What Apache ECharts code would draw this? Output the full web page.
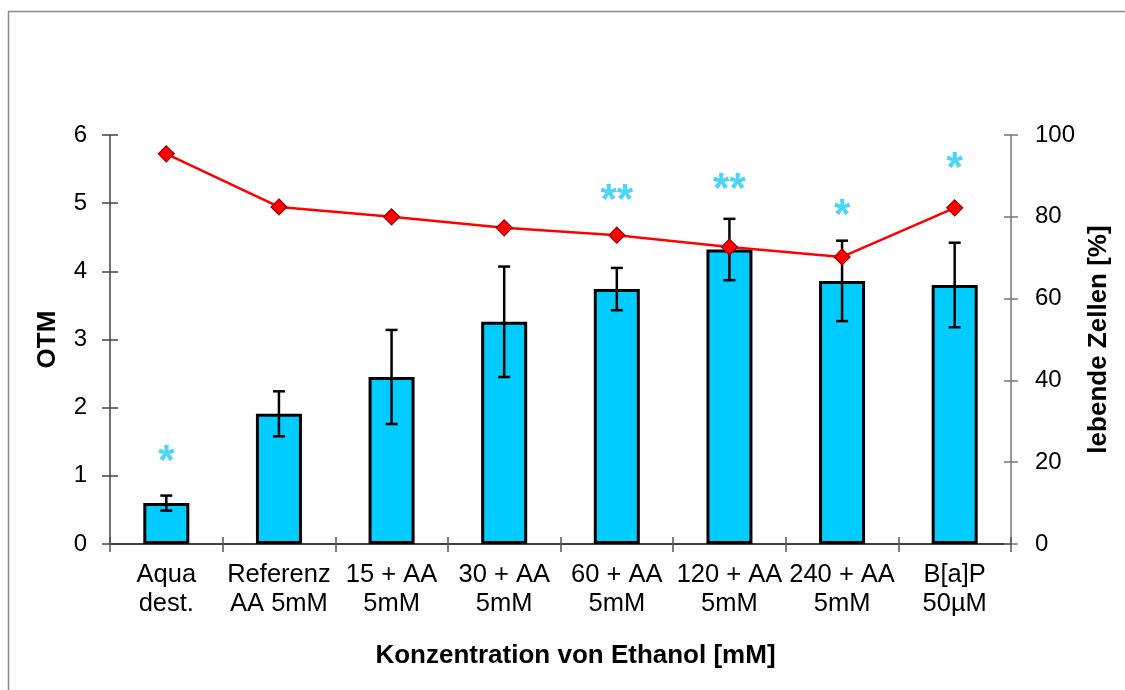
<!DOCTYPE html>
<html>
<head>
<meta charset="utf-8">
<script src="https://cdn.jsdelivr.net/npm/echarts@6/dist/echarts.min.js"></script>
<style>
html,body{margin:0;padding:0;background:#fff;}
#chart{width:1125px;height:690px;}
</style>
</head>
<body>
<div id="chart"></div>
<script>
const categories = ['Aqua\ndest.', 'Referenz\nAA 5mM', '15 + AA\n5mM', '30 + AA\n5mM', '60 + AA\n5mM', '120 + AA\n5mM', '240 + AA\n5mM', 'B[a]P\n50µM'];
const otmValues = [0.6, 1.91, 2.45, 3.26, 3.74, 4.32, 3.86, 3.80];
const otmErrors = [0.11, 0.33, 0.69, 0.81, 0.31, 0.45, 0.59, 0.62];
const viableCells = [95.4, 82.4, 80.0, 77.3, 75.5, 72.6, 70.2, 82.2];
const significance = ['*', '', '', '', '**', '**', '*', '*'];
const significanceY = [1.19, null, null, null, 5.03, 5.19, 4.81, 5.50];
const leftTicks = [0, 1, 2, 3, 4, 5, 6];
const rightTicks = [0, 20, 40, 60, 80, 100];

const FONT = 'Liberation Sans, Arial, sans-serif';
const chart = echarts.init(document.getElementById('chart'));

const errData = otmValues.map((v, i) => [i, v - otmErrors[i], v + otmErrors[i]]);
const sigData = significance.map((s, i) => s ? { value: [i, significanceY[i]], label: { formatter: s } } : null).filter(Boolean);

const grid = { left: 110, right: 114, top: 135, bottom: 146 };

chart.setOption({
  animation: false,
  backgroundColor: '#fff',
  graphic: [{
    type: 'rect', silent: true, z: -10,
    shape: { x: 8.5, y: 11.5, width: 1200, height: 800 },
    style: { fill: 'none', stroke: '#8a8a8a', lineWidth: 1.5 }
  }],
  grid: grid,
  xAxis: [{
    type: 'category',
    data: categories,
    boundaryGap: true,
    axisLine: { lineStyle: { color: '#000', width: 1.5 } },
    axisTick: { show: true, length: 8, lineStyle: { color: '#555', width: 1.5 } },
    axisLabel: { color: '#000', fontSize: 25.5, fontFamily: FONT, margin: 17, lineHeight: 28.5, interval: 0 },
    name: 'Konzentration von Ethanol [mM]',
    nameLocation: 'middle',
    nameGap: 99,
    nameTextStyle: { color: '#000', fontSize: 26, fontWeight: 'bold', fontFamily: FONT, padding: [0, 0, 0, 30] }
  }, {
    type: 'category',
    data: categories,
    position: 'bottom',
    boundaryGap: true,
    axisLine: { show: false },
    axisTick: { show: true, inside: true, length: 7, lineStyle: { color: '#555', width: 1.5 } },
    axisLabel: { show: false }
  }],
  yAxis: [{
    type: 'value', min: 0, max: 6, interval: 1, position: 'left',
    axisLine: { show: true, lineStyle: { color: '#444', width: 1.5 } },
    axisTick: { show: true, length: 8, lineStyle: { color: '#444', width: 1.5 } },
    axisLabel: { color: '#000', fontSize: 24, fontFamily: FONT, margin: 23 },
    splitLine: { show: false },
    name: 'OTM', nameLocation: 'middle', nameGap: 49, nameRotate: 90,
    nameTextStyle: { color: '#000', fontSize: 26, fontWeight: 'bold', fontFamily: FONT }
  }, {
    type: 'value', min: 0, max: 100, interval: 20, position: 'right',
    axisLine: { show: true, lineStyle: { color: '#777', width: 1.5 } },
    axisTick: { show: true, length: 7, lineStyle: { color: '#777', width: 1.5 } },
    axisLabel: { color: '#000', fontSize: 24, fontFamily: FONT, margin: 24 },
    splitLine: { show: false },
    name: 'lebende Zellen [%]', nameLocation: 'middle', nameGap: 64, nameRotate: 90,
    nameTextStyle: { color: '#000', fontSize: 26, fontWeight: 'bold', fontFamily: FONT }
  }, {
    type: 'value', min: 0, max: 6, interval: 1, position: 'left',
    axisLine: { show: false },
    axisTick: { show: true, inside: true, length: 8, lineStyle: { color: '#444', width: 1.5 } },
    axisLabel: { show: false }, splitLine: { show: false }
  }, {
    type: 'value', min: 0, max: 100, interval: 20, position: 'right',
    axisLine: { show: false },
    axisTick: { show: true, inside: true, length: 7, lineStyle: { color: '#777', width: 1.5 } },
    axisLabel: { show: false }, splitLine: { show: false }
  }],
  series: [{
    type: 'bar',
    data: otmValues,
    xAxisIndex: 0, yAxisIndex: 0,
    barWidth: 46,
    itemStyle: { color: '#00CCFF', borderColor: '#000', borderWidth: 3 },
    z: 2
  }, {
    type: 'custom',
    xAxisIndex: 0, yAxisIndex: 0,
    data: errData,
    z: 3,
    renderItem: function (params, api) {
      const x = api.value(0);
      const lo = api.coord([x, api.value(1)]);
      const hi = api.coord([x, api.value(2)]);
      const hw = 6;
      const st = { stroke: '#000', lineWidth: 2.5, fill: 'none' };
      return {
        type: 'group',
        children: [
          { type: 'line', shape: { x1: hi[0], y1: hi[1], x2: lo[0], y2: lo[1] }, style: st },
          { type: 'line', shape: { x1: hi[0] - hw, y1: hi[1], x2: hi[0] + hw, y2: hi[1] }, style: st },
          { type: 'line', shape: { x1: lo[0] - hw, y1: lo[1], x2: lo[0] + hw, y2: lo[1] }, style: st }
        ]
      };
    }
  }, {
    type: 'line',
    data: viableCells,
    xAxisIndex: 0, yAxisIndex: 1,
    symbol: 'diamond',
    symbolSize: 16,
    lineStyle: { color: '#FF0000', width: 2.5 },
    itemStyle: { color: '#FF0000', borderColor: '#990000', borderWidth: 1.2 },
    z: 5
  }, {
    type: 'scatter',
    xAxisIndex: 0, yAxisIndex: 0,
    data: sigData,
    symbolSize: 0,
    silent: true,
    label: {
      show: true, position: 'inside',
      color: '#1ECBF5', fontSize: 42, fontWeight: 'bold', fontFamily: FONT
    },
    z: 6
  }]
});
</script>
</body>
</html>
